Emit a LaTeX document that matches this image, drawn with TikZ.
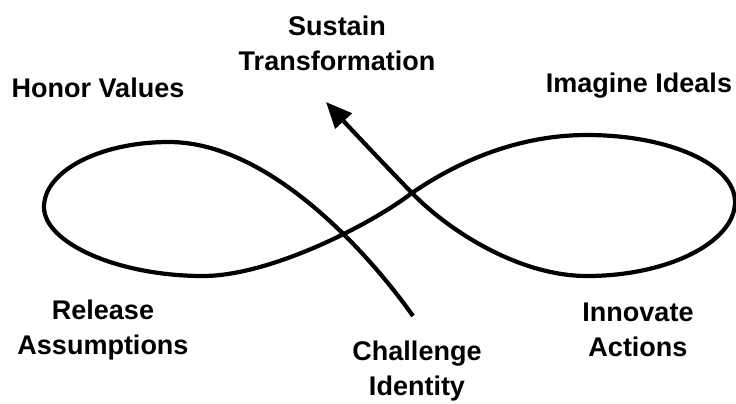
\documentclass[tikz,border=0pt]{standalone}
\usepackage{fontspec}
\setmainfont{Liberation Sans}
\usepackage{tikz}
\usetikzlibrary{arrows.meta,positioning}

\tikzset{
    label text/.style={font=\fontsize{13.5}{17.5}\selectfont\bfseries, align=center, inner sep=0pt},
    loop line/.style={line width=2.1pt, line join=round}
}

\begin{document}
\begin{tikzpicture}[x=0.5pt, y=-0.5pt]
    \useasboundingbox (0,0) rectangle (736,403);

    % the figure eight, ending in the arrow
    \draw[loop line, -{Triangle[length=13pt,width=11pt]}]
        (413,316) .. controls (370,255) and (270,142) .. (169,142)
        .. controls (100,142) and (44,171) .. (44,207)
        .. controls (44,243) and (118,276) .. (203,276)
        .. controls (270,276) and (370,225) .. (412,193)
        .. controls (460,160) and (520,135) .. (587,135)
        .. controls (668,135) and (735,164) .. (735,202)
        .. controls (735,242) and (668,276) .. (587,276)
        .. controls (520,276) and (450,232) .. (412,193)
        .. controls (380,160) and (350,128) .. (326,102);

    % labels round the loop
    \node[label text] (sustain) at (337,43) {Sustain\\Transformation};
    \node[label text] (honor) at (98,88) {Honor Values};
    \node[label text] (imagine) at (639,86) {Imagine Ideals};
    \node[label text] (release) at (103,330) {Release\\Assumptions};
    \node[label text] (challenge) at (417,371) {Challenge\\Identity};
    \node[label text] (innovate) at (638,330) {Innovate\\Actions};
\end{tikzpicture}
\end{document}
